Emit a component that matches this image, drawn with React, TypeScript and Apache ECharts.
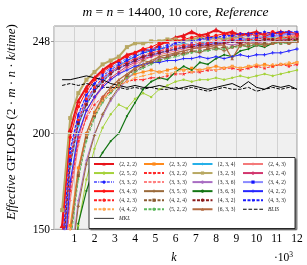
import React, { useEffect, useRef } from 'react';
import * as echarts from 'echarts';

const K = [0.4, 0.8, 1.2, 1.6, 2.0, 2.4, 2.8, 3.2, 3.6, 4.0, 4.4, 4.8, 5.2, 5.6, 6.0, 6.4, 6.8, 7.2, 7.6, 8.0, 8.4, 8.8, 9.2, 9.6, 10.0, 10.4, 10.8, 11.2, 11.6, 12.0];

const v222 = [152, 202, 217, 224, 229, 233, 236, 238, 241, 242, 244, 243, 246, 248, 250, 251, 253, 251, 252, 254, 252, 253, 251, 252, 253, 251, 252, 253, 252, 252];
const v232 = [100, 152, 182, 200, 211, 218, 222, 226, 229, 231, 232, 233, 232, 233, 234, 233, 234, 233, 234, 235, 234, 235, 234, 235, 235, 236, 235, 236, 236, 237];
const v234 = [130, 183, 204, 215, 222, 227, 231, 235, 238, 240, 242, 243, 244, 245, 246, 247, 246, 247, 248, 247, 248, 249, 248, 249, 248, 249, 250, 249, 250, 250];
const v243 = [112, 165, 194, 209, 218, 224, 228, 231, 234, 236, 238, 240, 241, 242, 243, 244, 245, 244, 246, 246, 247, 246, 247, 248, 247, 248, 248, 249, 248, 249];
const v252 = [75, 120, 152, 176, 192, 203, 210, 215, 213, 218, 221, 219, 223, 225, 227, 228, 227, 228, 228, 229, 228, 229, 230, 229, 230, 231, 230, 231, 232, 233];
const v322 = [118, 170, 196, 208, 215, 219, 222, 225, 227, 228, 228, 229, 229, 230, 231, 231, 232, 232, 233, 233, 234, 234, 233, 234, 235, 234, 235, 236, 235, 236];
const v323 = [160, 208, 221, 228, 232, 236, 238, 240, 245, 247, 247, 248, 248, 249, 249, 248, 249, 250, 249, 250, 249, 250, 250, 249, 250, 250, 249, 250, 250, 250];
const v324 = [120, 172, 198, 212, 219, 225, 229, 232, 235, 237, 239, 240, 242, 243, 244, 245, 245, 246, 246, 247, 247, 248, 247, 248, 248, 249, 248, 249, 249, 250];
const v332 = [138, 190, 209, 220, 226, 231, 234, 237, 239, 241, 243, 244, 245, 246, 247, 248, 248, 249, 249, 250, 250, 251, 250, 251, 251, 252, 251, 252, 252, 252];
const v333 = [130, 184, 205, 216, 223, 228, 232, 235, 237, 239, 241, 242, 243, 245, 246, 246, 247, 248, 248, 249, 248, 249, 250, 249, 250, 250, 251, 250, 251, 251];
const v336 = [85, 130, 165, 186, 200, 209, 217, 223, 228, 232, 235, 237, 239, 240, 242, 243, 244, 245, 245, 246, 247, 246, 247, 248, 247, 248, 249, 248, 249, 249];
const v342 = [133, 186, 206, 217, 223, 228, 232, 234, 236, 238, 240, 241, 242, 243, 244, 245, 246, 246, 247, 247, 248, 248, 249, 249, 250, 250, 251, 251, 252, 252];
const v343 = [148, 198, 214, 222, 228, 232, 235, 238, 240, 242, 244, 245, 247, 248, 248, 249, 250, 251, 250, 251, 252, 251, 252, 252, 251, 252, 253, 252, 253, 252];
const v353 = [82, 128, 162, 184, 199, 210, 218, 224, 230, 234, 238, 237, 240, 239, 242, 241, 243, 242, 244, 245, 243, 245, 246, 245, 247, 246, 247, 248, 247, 248];
const v363 = [60, 100, 153, 170, 183, 190, 196, 200, 209, 216, 223, 227, 229, 228, 232, 235, 233, 237, 236, 239, 241, 240, 243, 244, 246, 245, 247, 248, 247, 249];
const v422 = [122, 175, 200, 212, 219, 224, 228, 231, 233, 235, 236, 237, 237, 238, 238, 239, 239, 240, 239, 240, 239, 240, 241, 240, 241, 241, 242, 242, 243, 244];
const v423 = [136, 188, 207, 218, 224, 229, 232, 235, 237, 239, 240, 242, 243, 244, 245, 246, 246, 247, 247, 248, 248, 249, 248, 249, 249, 250, 249, 250, 250, 251];
const v424 = [95, 145, 178, 198, 209, 217, 222, 226, 230, 233, 235, 237, 238, 240, 241, 242, 243, 243, 244, 244, 245, 245, 246, 246, 246, 247, 247, 247, 248, 248];
const v432 = [132, 184, 205, 215, 222, 227, 231, 234, 236, 238, 240, 241, 242, 243, 244, 245, 245, 246, 246, 247, 247, 248, 247, 248, 248, 249, 249, 248, 249, 249];
const v433 = [140, 192, 210, 220, 226, 230, 233, 236, 238, 240, 242, 243, 244, 245, 247, 248, 248, 249, 250, 250, 251, 251, 252, 252, 252, 253, 252, 253, 253, 253];
const v442 = [100, 150, 180, 199, 210, 217, 222, 225, 227, 229, 230, 231, 232, 231, 232, 233, 232, 233, 234, 233, 234, 235, 234, 235, 236, 235, 236, 236, 237, 237];
const v522 = [92, 142, 176, 196, 208, 216, 221, 225, 229, 232, 234, 236, 238, 239, 240, 241, 242, 243, 243, 244, 244, 245, 245, 246, 246, 246, 247, 247, 247, 248];
const v633 = [98, 148, 180, 200, 211, 219, 224, 228, 231, 234, 236, 238, 240, 241, 242, 243, 244, 245, 245, 246, 246, 239, 246, 247, 247, 246, 247, 248, 247, 248];
const vBLIS = [225, 226, 225, 226, 225, 224, 224, 224, 223, 224, 223, 224, 223, 223, 224, 223, 224, 223, 222, 223, 224, 223, 223, 224, 222, 223, 224, 223, 224, 223];
const vMKL = [228, 228, 229, 230, 229, 228, 226, 225, 224, 225, 224, 224, 225, 224, 223, 224, 225, 224, 223, 224, 225, 226, 224, 227, 224, 223, 225, 224, 225, 223];

const Y_TICKS = [150, 200, 248];
const Y_GRID = [200, 248];

const SERIF = "'Liberation Serif', 'DejaVu Serif', serif";
const PLUS = 'path://M0.38,0H0.62V0.38H1V0.62H0.62V1H0.38V0.62H0V0.38H0.38Z';
const STAR = 'path://M0.5,0L0.62,0.38L1,0.38L0.69,0.62L0.81,1L0.5,0.76L0.19,1L0.31,0.62L0,0.38L0.38,0.38Z';
const ICON_SOLID = 'path://M0,0H40V1.6H0Z';
const ICON_DASH = 'path://M0,0H7V1.6H0ZM10.5,0H17.5V1.6H10.5ZM21,0H28V1.6H21ZM31.5,0H38.5V1.6H31.5Z';

const t = (a: number, b: number, c: number) => `\u27E8${a}, ${b}, ${c}\u27E9`;

type Spec = {
  name: string;
  values: number[];
  color: string;
  width: number;
  dash?: any;
  symbol: string;
  size: number;
  symColor?: string;
  icon?: string;
};

const DASH = [3, 1.5];
const DASHDOT = [3, 1.2, 1, 1.2];

const SPECS: Spec[] = [
  { name: t(2, 2, 2), values: v222, color: '#e8141b', width: 2, symbol: 'triangle', size: 5 },
  { name: t(2, 3, 2), values: v232, color: '#ff8a1c', width: 1, symbol: 'rect', size: 3 },
  { name: t(2, 3, 4), values: v234, color: '#26b0e8', width: 1, symbol: 'diamond', size: 3.5 },
  { name: t(2, 4, 3), values: v243, color: '#f47a7a', width: 1, symbol: PLUS, size: 3 },
  { name: t(2, 5, 2), values: v252, color: '#a5d23a', width: 1, symbol: 'circle', size: 2.5 },
  { name: t(3, 2, 2), values: v322, color: '#ff2a2a', width: 1, dash: DASH, symbol: STAR, size: 4 },
  { name: t(3, 2, 3), values: v323, color: '#b8a862', width: 2, symbol: 'rect', size: 4 },
  { name: t(3, 2, 4), values: v324, color: '#d2366e', width: 1, symbol: 'circle', size: 3 },
  { name: t(3, 3, 2), values: v332, color: '#7272ff', width: 1.2, dash: DASHDOT, symbol: 'circle', size: 2.5, symColor: '#2020ff' },
  { name: t(3, 3, 3), values: v333, color: '#ff8080', width: 1, dash: DASH, symbol: STAR, size: 3.5 },
  { name: t(3, 3, 6), values: v336, color: '#a86cc2', width: 1, symbol: 'circle', size: 2 },
  { name: t(3, 4, 2), values: v342, color: '#8a8aff', width: 1.8, symbol: 'rect', size: 3, symColor: '#1515ff' },
  { name: t(3, 4, 3), values: v343, color: '#ff1212', width: 1, symbol: 'circle', size: 3.5 },
  { name: t(3, 5, 3), values: v353, color: '#9a6a3a', width: 1, symbol: PLUS, size: 3.5 },
  { name: t(3, 6, 3), values: v363, color: '#137513', width: 1.2, symbol: 'circle', size: 2 },
  { name: t(4, 2, 2), values: v422, color: '#2424ff', width: 1, symbol: PLUS, size: 3.5 },
  { name: t(4, 2, 3), values: v423, color: '#ff2020', width: 1, dash: DASH, symbol: 'circle', size: 3 },
  { name: t(4, 2, 4), values: v424, color: '#8a5a30', width: 1, dash: DASH, symbol: 'rect', size: 3 },
  { name: t(4, 3, 2), values: v432, color: '#8b1c1c', width: 1, dash: DASH, symbol: 'circle', size: 3 },
  { name: t(4, 3, 3), values: v433, color: '#1a1aff', width: 1, dash: DASH, symbol: STAR, size: 4 },
  { name: t(4, 4, 2), values: v442, color: '#ffa850', width: 1, dash: DASH, symbol: 'circle', size: 2.5 },
  { name: t(5, 2, 2), values: v522, color: '#5cb85c', width: 1, dash: DASH, symbol: 'circle', size: 2 },
  { name: t(6, 3, 3), values: v633, color: '#b36a40', width: 1.2, symbol: 'triangle', size: 3.5 },
  { name: 'BLIS', values: vBLIS, color: '#000000', width: 1, dash: [3.5, 1.5], symbol: 'none', size: 0, icon: ICON_DASH },
  { name: 'MKL', values: vMKL, color: '#000000', width: 1, symbol: 'none', size: 0, icon: ICON_SOLID },
];

const LEGEND_LEFT = [93, 143, 191.5, 242];

export default function App() {
  const ref = useRef<HTMLDivElement>(null);
  useEffect(() => {
    if (!ref.current) return;
    const chart = echarts.init(ref.current, null, { renderer: 'svg' });

    const series: any[] = [
      {
        type: 'line',
        data: [],
        z: 1,
        silent: true,
        markLine: {
          silent: true,
          symbol: ['none', 'none'],
          label: { show: false },
          lineStyle: { color: '#d2d2d2', width: 1, type: 'solid' },
          data: Y_GRID.map((y) => ({ yAxis: y })),
        },
      },
      ...SPECS.map((s) => ({
        type: 'line',
        name: s.name,
        data: K.map((k, i) => [k, s.values[i]]),
        symbol: s.symbol,
        symbolSize: s.size,
        showSymbol: s.symbol !== 'none',
        clip: true,
        z: 2,
        lineStyle: { color: s.color, width: s.width, type: s.dash || 'solid' },
        itemStyle: { color: s.symColor || s.color },
        emphasis: { disabled: true },
      })),
    ];

    const legends = LEGEND_LEFT.map((left, j) => ({
      show: true,
      orient: 'vertical',
      left,
      top: 161,
      padding: 0,
      itemWidth: 20,
      itemHeight: 4,
      itemGap: 3.05,
      selectedMode: false,
      z: 5,
      textStyle: { fontSize: 5.5, fontFamily: SERIF, color: '#222', lineHeight: 6 },
      data: SPECS.filter((_, i) => i % 4 === j).map((s) =>
        s.icon
          ? { name: s.name, icon: s.icon, textStyle: { fontStyle: 'italic' } }
          : { name: s.name }
      ),
    }));

    chart.setOption({
      animation: false,
      grid: {
        left: 54,
        right: 10,
        top: 26,
        bottom: 35.7,
        show: true,
        backgroundColor: '#f0f0f0',
        borderColor: '#999',
        borderWidth: 1,
      },
      xAxis: {
        type: 'value',
        min: 0,
        max: 12,
        interval: 1,
        axisLine: { show: false },
        axisTick: { show: false },
        axisLabel: {
          formatter: (v: number) => (v === 0 ? '' : String(v)),
          fontSize: 11.5,
          fontFamily: SERIF,
          color: '#000',
          margin: 3,
        },
        splitLine: { show: true, lineStyle: { color: '#d2d2d2', width: 1 } },
      },
      yAxis: {
        type: 'value',
        min: 150,
        max: 256,
        axisLine: { show: false },
        axisTick: { show: true, customValues: Y_TICKS, length: 3, lineStyle: { color: '#999' } },
        axisLabel: {
          customValues: Y_TICKS,
          fontSize: 11.5,
          fontFamily: SERIF,
          color: '#000',
          margin: 4,
        },
        splitLine: { show: false },
      },
      legend: legends,
      graphic: {
        elements: [
          {
            type: 'text',
            x: 175.5,
            y: 11,
            z: 10,
            style: {
              text: '{i|m} = {i|n} = 14400, 10 core, {i|Reference}',
              fontSize: 13.5,
              fontFamily: SERIF,
              fill: '#000',
              align: 'center',
              verticalAlign: 'middle',
              rich: { i: { fontStyle: 'italic', fontSize: 13.5, fontFamily: SERIF } },
            },
          },
          {
            type: 'text',
            x: 10,
            y: 122,
            rotation: Math.PI / 2,
            z: 10,
            style: {
              text: '{i|Effective} GFLOPS (2 · {i|m} · {i|n} · {i|k}/{i|time})',
              fontSize: 13,
              fontFamily: SERIF,
              fill: '#000',
              align: 'center',
              verticalAlign: 'middle',
              rich: { i: { fontStyle: 'italic', fontSize: 13, fontFamily: SERIF } },
            },
          },
          {
            type: 'text',
            x: 174,
            y: 257,
            z: 10,
            style: {
              text: 'k',
              fontSize: 12,
              fontStyle: 'italic',
              fontFamily: SERIF,
              fill: '#000',
              align: 'center',
              verticalAlign: 'middle',
            },
          },
          {
            type: 'text',
            x: 274,
            y: 257,
            z: 10,
            style: {
              text: '·10{s|3}',
              fontSize: 11.5,
              fontFamily: SERIF,
              fill: '#000',
              align: 'left',
              verticalAlign: 'middle',
              rich: { s: { fontSize: 7.5, fontFamily: SERIF, verticalAlign: 'top', padding: [0, 0, 6, 0] } },
            },
          },
          {
            type: 'rect',
            z: 3,
            shape: { x: 89, y: 157.5, width: 206, height: 71 },
            style: {
              fill: '#ffffff',
              stroke: '#000',
              lineWidth: 0.8,
              shadowColor: 'rgba(0,0,0,0.45)',
              shadowOffsetX: 1.5,
              shadowOffsetY: 1.5,
              shadowBlur: 0,
            },
          },
        ],
      },
      series,
    });
    return () => chart.dispose();
  }, []);
  return <div ref={ref} style={{ position: 'fixed', left: 0, top: 0, width: 307, height: 265 }} />;
}
